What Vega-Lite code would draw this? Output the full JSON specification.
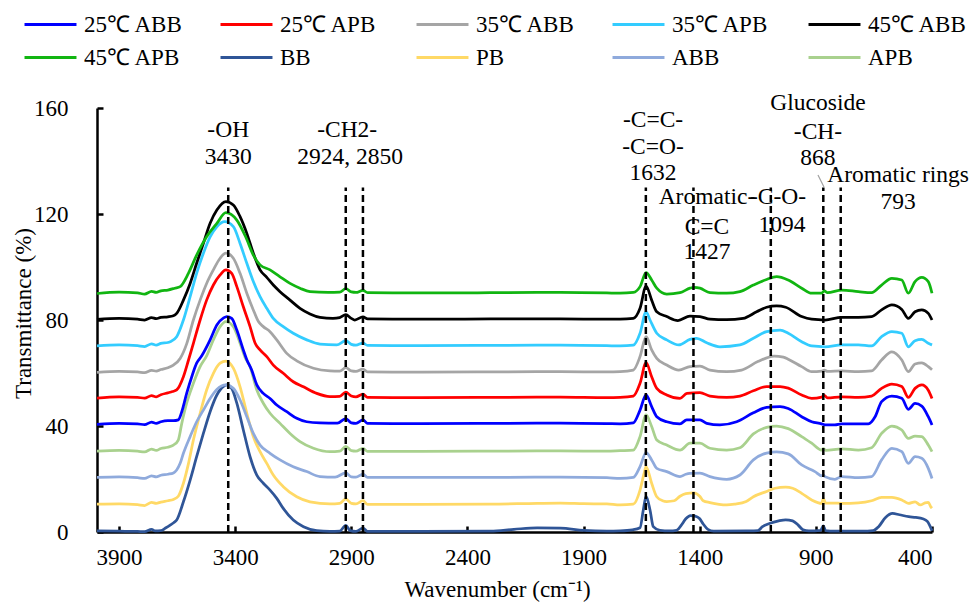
{
"$schema": "https://vega.github.io/schema/vega-lite/v6.json",
"width": 835,
"height": 424,
"autosize": {"type": "none"},
"padding": {"left": 97, "top": 108, "right": 40, "bottom": 70},
"background": "white",
"config": {
 "view": {"stroke": null},
 "font": "Liberation Serif",
 "style": {"guide-label": {"font": "Liberation Serif"}, "guide-title": {"font": "Liberation Serif"}},
 "axis": {"grid": false, "domainColor": "black", "domainWidth": 2.5, "tickColor": "black", "tickWidth": 2.5, "tickSize": -6, "labelFont": "Liberation Serif", "labelFontSize": 23, "labelColor": "black", "titleFont": "Liberation Serif", "titleFontSize": 23, "titleFontWeight": "normal", "titleColor": "black"},
 "legend": {"orient": "none", "legendX": -74, "legendY": -100, "direction": "horizontal", "columns": 5, "symbolType": "stroke", "symbolSize": 2700, "symbolStrokeWidth": 3, "labelFont": "Liberation Serif", "labelFontSize": 23, "labelColor": "black", "labelLimit": 300, "columnPadding": 35, "rowPadding": 0, "clipHeight": 33, "labelOffset": 6, "gridAlign": "all"}
},
"datasets": {
 "peaks": [{"wn": 3430}, {"wn": 2924}, {"wn": 2850}, {"wn": 1632}, {"wn": 1427}, {"wn": 1094}, {"wn": 868}, {"wn": 793}],
 "notes": [
  {"label": "-OH", "wn": 3430, "T": 151.7},
  {"label": "3430", "wn": 3430, "T": 141.5},
  {"label": "-CH2-", "wn": 2918, "T": 151.7},
  {"label": "2924, 2850", "wn": 2905, "T": 141.5},
  {"label": "-C=C-", "wn": 1601, "T": 155.5},
  {"label": "-C=O-", "wn": 1601, "T": 145.3},
  {"label": "1632", "wn": 1601, "T": 135.5},
  {"label": "Glucoside", "wn": 891, "T": 161.9},
  {"label": "-CH-", "wn": 891, "T": 150.9},
  {"label": "868", "wn": 891, "T": 141.1},
  {"label": "Aromatic rings", "wn": 546, "T": 134.7},
  {"label": "793", "wn": 546, "T": 124.5},
  {"label": "Aromatic-", "wn": 1369, "T": 126.4},
  {"label": "C=C", "wn": 1369, "T": 115.1},
  {"label": "1427", "wn": 1369, "T": 105.7},
  {"label": "-C-O-", "wn": 1063, "T": 126.4},
  {"label": "1094", "wn": 1046, "T": 115.8}
 ],
 "spectra": [
{"s":"BB","wn":3995,"T":0.4},{"s":"BB","wn":3900,"T":0.3},{"s":"BB","wn":3820,"T":0.2},{"s":"BB","wn":3790,"T":0.1},{"s":"BB","wn":3760,"T":1.0},{"s":"BB","wn":3745,"T":0.4},{"s":"BB","wn":3720,"T":0.5},{"s":"BB","wn":3700,"T":1.5},{"s":"BB","wn":3680,"T":2.6},{"s":"BB","wn":3665,"T":3.5},{"s":"BB","wn":3652,"T":4.5},{"s":"BB","wn":3623,"T":11.4},{"s":"BB","wn":3594,"T":19.6},{"s":"BB","wn":3566,"T":28.4},{"s":"BB","wn":3537,"T":37.2},{"s":"BB","wn":3508,"T":45.4},{"s":"BB","wn":3479,"T":51.7},{"s":"BB","wn":3450,"T":55.0},{"s":"BB","wn":3436,"T":55.5},{"s":"BB","wn":3415,"T":54.2},{"s":"BB","wn":3393,"T":48.6},{"s":"BB","wn":3365,"T":38.5},{"s":"BB","wn":3336,"T":28.4},{"s":"BB","wn":3307,"T":21.5},{"s":"BB","wn":3279,"T":18.4},{"s":"BB","wn":3250,"T":15.8},{"s":"BB","wn":3221,"T":12.7},{"s":"BB","wn":3193,"T":8.9},{"s":"BB","wn":3150,"T":4.5},{"s":"BB","wn":3106,"T":2.0},{"s":"BB","wn":3049,"T":0.5},{"s":"BB","wn":2992,"T":0.2},{"s":"BB","wn":2950,"T":0.3},{"s":"BB","wn":2924,"T":2.5},{"s":"BB","wn":2905,"T":0.5},{"s":"BB","wn":2880,"T":0.2},{"s":"BB","wn":2850,"T":1.5},{"s":"BB","wn":2830,"T":0.2},{"s":"BB","wn":2600,"T":0.2},{"s":"BB","wn":2300,"T":0.3},{"s":"BB","wn":2200,"T":1.0},{"s":"BB","wn":2100,"T":1.6},{"s":"BB","wn":2000,"T":1.5},{"s":"BB","wn":1900,"T":0.6},{"s":"BB","wn":1800,"T":0.3},{"s":"BB","wn":1743,"T":0.4},{"s":"BB","wn":1690,"T":0.8},{"s":"BB","wn":1657,"T":1.6},{"s":"BB","wn":1643,"T":8.3},{"s":"BB","wn":1631,"T":13.4},{"s":"BB","wn":1614,"T":8.3},{"s":"BB","wn":1600,"T":2.0},{"s":"BB","wn":1571,"T":0.6},{"s":"BB","wn":1530,"T":0.4},{"s":"BB","wn":1500,"T":0.6},{"s":"BB","wn":1480,"T":2.5},{"s":"BB","wn":1460,"T":5.0},{"s":"BB","wn":1440,"T":6.2},{"s":"BB","wn":1420,"T":6.0},{"s":"BB","wn":1400,"T":5.0},{"s":"BB","wn":1385,"T":3.0},{"s":"BB","wn":1365,"T":1.0},{"s":"BB","wn":1340,"T":0.3},{"s":"BB","wn":1200,"T":0.4},{"s":"BB","wn":1150,"T":0.5},{"s":"BB","wn":1130,"T":2.0},{"s":"BB","wn":1100,"T":3.2},{"s":"BB","wn":1060,"T":4.2},{"s":"BB","wn":1030,"T":4.6},{"s":"BB","wn":1000,"T":4.2},{"s":"BB","wn":975,"T":2.5},{"s":"BB","wn":955,"T":0.8},{"s":"BB","wn":930,"T":0.4},{"s":"BB","wn":880,"T":0.6},{"s":"BB","wn":868,"T":2.3},{"s":"BB","wn":858,"T":0.5},{"s":"BB","wn":820,"T":0.3},{"s":"BB","wn":700,"T":0.3},{"s":"BB","wn":654,"T":0.5},{"s":"BB","wn":630,"T":2.0},{"s":"BB","wn":600,"T":5.5},{"s":"BB","wn":570,"T":7.0},{"s":"BB","wn":540,"T":6.5},{"s":"BB","wn":500,"T":5.8},{"s":"BB","wn":470,"T":5.5},{"s":"BB","wn":440,"T":5.0},{"s":"BB","wn":420,"T":4.0},{"s":"BB","wn":410,"T":2.5},{"s":"BB","wn":400,"T":0.5},
{"s":"PB","wn":3995,"T":10.5},{"s":"PB","wn":3900,"T":10.6},{"s":"PB","wn":3820,"T":10.3},{"s":"PB","wn":3790,"T":10.0},{"s":"PB","wn":3760,"T":11.2},{"s":"PB","wn":3740,"T":10.8},{"s":"PB","wn":3720,"T":11.3},{"s":"PB","wn":3690,"T":11.8},{"s":"PB","wn":3666,"T":12.3},{"s":"PB","wn":3645,"T":13.5},{"s":"PB","wn":3623,"T":18.4},{"s":"PB","wn":3601,"T":25.9},{"s":"PB","wn":3580,"T":34.7},{"s":"PB","wn":3551,"T":44.8},{"s":"PB","wn":3523,"T":53.6},{"s":"PB","wn":3494,"T":59.9},{"s":"PB","wn":3465,"T":63.7},{"s":"PB","wn":3440,"T":64.5},{"s":"PB","wn":3408,"T":61.8},{"s":"PB","wn":3379,"T":54.8},{"s":"PB","wn":3350,"T":44.8},{"s":"PB","wn":3322,"T":36.0},{"s":"PB","wn":3293,"T":30.3},{"s":"PB","wn":3264,"T":25.9},{"s":"PB","wn":3236,"T":21.5},{"s":"PB","wn":3193,"T":17.1},{"s":"PB","wn":3135,"T":13.3},{"s":"PB","wn":3078,"T":11.4},{"s":"PB","wn":2992,"T":10.6},{"s":"PB","wn":2950,"T":10.8},{"s":"PB","wn":2924,"T":12.5},{"s":"PB","wn":2900,"T":10.8},{"s":"PB","wn":2880,"T":10.6},{"s":"PB","wn":2850,"T":11.8},{"s":"PB","wn":2830,"T":10.4},{"s":"PB","wn":2600,"T":10.4},{"s":"PB","wn":2300,"T":10.5},{"s":"PB","wn":2100,"T":10.8},{"s":"PB","wn":2000,"T":10.9},{"s":"PB","wn":1900,"T":10.7},{"s":"PB","wn":1800,"T":10.6},{"s":"PB","wn":1743,"T":10.2},{"s":"PB","wn":1686,"T":10.5},{"s":"PB","wn":1657,"T":15.8},{"s":"PB","wn":1640,"T":22.0},{"s":"PB","wn":1631,"T":24.7},{"s":"PB","wn":1607,"T":18.4},{"s":"PB","wn":1585,"T":13.3},{"s":"PB","wn":1560,"T":11.8},{"s":"PB","wn":1542,"T":11.5},{"s":"PB","wn":1510,"T":11.8},{"s":"PB","wn":1485,"T":13.5},{"s":"PB","wn":1460,"T":14.5},{"s":"PB","wn":1425,"T":14.8},{"s":"PB","wn":1400,"T":13.5},{"s":"PB","wn":1385,"T":11.8},{"s":"PB","wn":1356,"T":11.1},{"s":"PB","wn":1284,"T":10.2},{"s":"PB","wn":1250,"T":10.5},{"s":"PB","wn":1200,"T":11.5},{"s":"PB","wn":1169,"T":13.3},{"s":"PB","wn":1112,"T":15.3},{"s":"PB","wn":1076,"T":16.5},{"s":"PB","wn":1030,"T":16.9},{"s":"PB","wn":1000,"T":16.5},{"s":"PB","wn":961,"T":14.6},{"s":"PB","wn":918,"T":12.1},{"s":"PB","wn":875,"T":10.8},{"s":"PB","wn":868,"T":12.7},{"s":"PB","wn":858,"T":10.9},{"s":"PB","wn":820,"T":10.9},{"s":"PB","wn":789,"T":10.8},{"s":"PB","wn":717,"T":11.0},{"s":"PB","wn":660,"T":11.8},{"s":"PB","wn":617,"T":13.1},{"s":"PB","wn":573,"T":13.1},{"s":"PB","wn":530,"T":12.1},{"s":"PB","wn":502,"T":10.8},{"s":"PB","wn":473,"T":11.4},{"s":"PB","wn":450,"T":10.2},{"s":"PB","wn":430,"T":11.0},{"s":"PB","wn":416,"T":11.2},{"s":"PB","wn":405,"T":9.5},{"s":"PB","wn":400,"T":9.0},
{"s":"ABB","wn":3995,"T":20.6},{"s":"ABB","wn":3900,"T":20.8},{"s":"ABB","wn":3820,"T":20.5},{"s":"ABB","wn":3790,"T":20.2},{"s":"ABB","wn":3760,"T":21.2},{"s":"ABB","wn":3740,"T":20.8},{"s":"ABB","wn":3720,"T":21.4},{"s":"ABB","wn":3690,"T":21.8},{"s":"ABB","wn":3666,"T":22.3},{"s":"ABB","wn":3652,"T":23.4},{"s":"ABB","wn":3637,"T":25.9},{"s":"ABB","wn":3623,"T":29.7},{"s":"ABB","wn":3594,"T":36.0},{"s":"ABB","wn":3566,"T":41.6},{"s":"ABB","wn":3537,"T":46.0},{"s":"ABB","wn":3508,"T":50.4},{"s":"ABB","wn":3479,"T":53.8},{"s":"ABB","wn":3440,"T":55.5},{"s":"ABB","wn":3408,"T":54.2},{"s":"ABB","wn":3379,"T":49.8},{"s":"ABB","wn":3350,"T":43.5},{"s":"ABB","wn":3322,"T":37.2},{"s":"ABB","wn":3293,"T":32.8},{"s":"ABB","wn":3250,"T":29.7},{"s":"ABB","wn":3207,"T":27.2},{"s":"ABB","wn":3150,"T":24.6},{"s":"ABB","wn":3092,"T":22.8},{"s":"ABB","wn":3035,"T":20.9},{"s":"ABB","wn":2970,"T":20.7},{"s":"ABB","wn":2924,"T":22.3},{"s":"ABB","wn":2900,"T":20.8},{"s":"ABB","wn":2880,"T":20.7},{"s":"ABB","wn":2850,"T":21.8},{"s":"ABB","wn":2830,"T":20.6},{"s":"ABB","wn":2600,"T":20.6},{"s":"ABB","wn":2300,"T":20.6},{"s":"ABB","wn":2000,"T":20.7},{"s":"ABB","wn":1800,"T":20.5},{"s":"ABB","wn":1743,"T":20.2},{"s":"ABB","wn":1686,"T":20.6},{"s":"ABB","wn":1657,"T":24.7},{"s":"ABB","wn":1631,"T":30.0},{"s":"ABB","wn":1607,"T":27.2},{"s":"ABB","wn":1585,"T":24.0},{"s":"ABB","wn":1542,"T":22.8},{"s":"ABB","wn":1485,"T":20.9},{"s":"ABB","wn":1460,"T":21.8},{"s":"ABB","wn":1442,"T":22.1},{"s":"ABB","wn":1399,"T":22.2},{"s":"ABB","wn":1356,"T":20.9},{"s":"ABB","wn":1284,"T":19.9},{"s":"ABB","wn":1227,"T":21.5},{"s":"ABB","wn":1169,"T":27.2},{"s":"ABB","wn":1112,"T":29.8},{"s":"ABB","wn":1069,"T":30.2},{"s":"ABB","wn":1019,"T":29.5},{"s":"ABB","wn":961,"T":25.3},{"s":"ABB","wn":904,"T":22.8},{"s":"ABB","wn":875,"T":21.2},{"s":"ABB","wn":868,"T":21.5},{"s":"ABB","wn":861,"T":20.9},{"s":"ABB","wn":818,"T":19.9},{"s":"ABB","wn":789,"T":20.9},{"s":"ABB","wn":717,"T":20.5},{"s":"ABB","wn":660,"T":20.9},{"s":"ABB","wn":617,"T":27.2},{"s":"ABB","wn":573,"T":31.6},{"s":"ABB","wn":530,"T":30.3},{"s":"ABB","wn":502,"T":25.9},{"s":"ABB","wn":473,"T":28.4},{"s":"ABB","wn":444,"T":27.8},{"s":"ABB","wn":416,"T":24.0},{"s":"ABB","wn":400,"T":20.2},
{"s":"APB","wn":3995,"T":30.5},{"s":"APB","wn":3900,"T":30.8},{"s":"APB","wn":3820,"T":30.5},{"s":"APB","wn":3790,"T":30.2},{"s":"APB","wn":3760,"T":31.3},{"s":"APB","wn":3740,"T":30.8},{"s":"APB","wn":3720,"T":31.5},{"s":"APB","wn":3690,"T":32.0},{"s":"APB","wn":3666,"T":32.8},{"s":"APB","wn":3645,"T":34.7},{"s":"APB","wn":3630,"T":41.0},{"s":"APB","wn":3609,"T":48.6},{"s":"APB","wn":3580,"T":56.1},{"s":"APB","wn":3551,"T":62.4},{"s":"APB","wn":3523,"T":66.5},{"s":"APB","wn":3494,"T":72.5},{"s":"APB","wn":3465,"T":77.5},{"s":"APB","wn":3440,"T":79.4},{"s":"APB","wn":3408,"T":77.5},{"s":"APB","wn":3379,"T":71.2},{"s":"APB","wn":3358,"T":66.0},{"s":"APB","wn":3336,"T":62.4},{"s":"APB","wn":3307,"T":53.6},{"s":"APB","wn":3279,"T":48.6},{"s":"APB","wn":3250,"T":44.8},{"s":"APB","wn":3207,"T":41.0},{"s":"APB","wn":3164,"T":37.2},{"s":"APB","wn":3121,"T":34.1},{"s":"APB","wn":3063,"T":31.6},{"s":"APB","wn":2992,"T":30.3},{"s":"APB","wn":2950,"T":30.5},{"s":"APB","wn":2924,"T":32.3},{"s":"APB","wn":2900,"T":30.7},{"s":"APB","wn":2880,"T":30.5},{"s":"APB","wn":2850,"T":31.6},{"s":"APB","wn":2830,"T":30.4},{"s":"APB","wn":2600,"T":30.4},{"s":"APB","wn":2300,"T":30.5},{"s":"APB","wn":2000,"T":30.6},{"s":"APB","wn":1800,"T":30.5},{"s":"APB","wn":1743,"T":30.7},{"s":"APB","wn":1686,"T":30.9},{"s":"APB","wn":1657,"T":36.0},{"s":"APB","wn":1631,"T":44.2},{"s":"APB","wn":1607,"T":39.8},{"s":"APB","wn":1585,"T":34.7},{"s":"APB","wn":1542,"T":32.8},{"s":"APB","wn":1485,"T":30.9},{"s":"APB","wn":1442,"T":33.5},{"s":"APB","wn":1399,"T":33.5},{"s":"APB","wn":1356,"T":31.6},{"s":"APB","wn":1284,"T":30.9},{"s":"APB","wn":1227,"T":31.8},{"s":"APB","wn":1169,"T":37.0},{"s":"APB","wn":1112,"T":39.5},{"s":"APB","wn":1069,"T":40.0},{"s":"APB","wn":1019,"T":39.0},{"s":"APB","wn":961,"T":36.0},{"s":"APB","wn":918,"T":33.5},{"s":"APB","wn":875,"T":30.9},{"s":"APB","wn":868,"T":31.5},{"s":"APB","wn":858,"T":30.8},{"s":"APB","wn":789,"T":31.4},{"s":"APB","wn":717,"T":30.9},{"s":"APB","wn":660,"T":31.8},{"s":"APB","wn":617,"T":37.2},{"s":"APB","wn":573,"T":40.0},{"s":"APB","wn":530,"T":38.5},{"s":"APB","wn":502,"T":35.3},{"s":"APB","wn":473,"T":36.2},{"s":"APB","wn":444,"T":36.0},{"s":"APB","wn":416,"T":32.8},{"s":"APB","wn":400,"T":30.3},
{"s":"25℃ ABB","wn":3995,"T":40.6},{"s":"25℃ ABB","wn":3900,"T":41.0},{"s":"25℃ ABB","wn":3820,"T":40.8},{"s":"25℃ ABB","wn":3790,"T":40.5},{"s":"25℃ ABB","wn":3760,"T":41.5},{"s":"25℃ ABB","wn":3740,"T":41.0},{"s":"25℃ ABB","wn":3720,"T":41.6},{"s":"25℃ ABB","wn":3690,"T":42.0},{"s":"25℃ ABB","wn":3666,"T":42.0},{"s":"25℃ ABB","wn":3645,"T":42.3},{"s":"25℃ ABB","wn":3630,"T":45.4},{"s":"25℃ ABB","wn":3609,"T":52.3},{"s":"25℃ ABB","wn":3587,"T":58.6},{"s":"25℃ ABB","wn":3566,"T":63.7},{"s":"25℃ ABB","wn":3544,"T":66.5},{"s":"25℃ ABB","wn":3508,"T":72.5},{"s":"25℃ ABB","wn":3479,"T":78.1},{"s":"25℃ ABB","wn":3450,"T":80.8},{"s":"25℃ ABB","wn":3436,"T":81.3},{"s":"25℃ ABB","wn":3415,"T":80.6},{"s":"25℃ ABB","wn":3393,"T":76.2},{"s":"25℃ ABB","wn":3365,"T":68.7},{"s":"25℃ ABB","wn":3350,"T":65.0},{"s":"25℃ ABB","wn":3329,"T":61.1},{"s":"25℃ ABB","wn":3307,"T":55.5},{"s":"25℃ ABB","wn":3279,"T":52.3},{"s":"25℃ ABB","wn":3250,"T":50.4},{"s":"25℃ ABB","wn":3221,"T":47.9},{"s":"25℃ ABB","wn":3178,"T":45.4},{"s":"25℃ ABB","wn":3135,"T":42.9},{"s":"25℃ ABB","wn":3092,"T":41.6},{"s":"25℃ ABB","wn":3035,"T":41.2},{"s":"25℃ ABB","wn":2960,"T":41.1},{"s":"25℃ ABB","wn":2924,"T":42.8},{"s":"25℃ ABB","wn":2900,"T":41.2},{"s":"25℃ ABB","wn":2880,"T":41.0},{"s":"25℃ ABB","wn":2850,"T":42.3},{"s":"25℃ ABB","wn":2830,"T":41.0},{"s":"25℃ ABB","wn":2600,"T":40.9},{"s":"25℃ ABB","wn":2300,"T":41.0},{"s":"25℃ ABB","wn":2000,"T":41.1},{"s":"25℃ ABB","wn":1800,"T":40.9},{"s":"25℃ ABB","wn":1743,"T":40.8},{"s":"25℃ ABB","wn":1686,"T":41.2},{"s":"25℃ ABB","wn":1657,"T":46.0},{"s":"25℃ ABB","wn":1631,"T":51.7},{"s":"25℃ ABB","wn":1607,"T":47.3},{"s":"25℃ ABB","wn":1585,"T":43.5},{"s":"25℃ ABB","wn":1542,"T":41.6},{"s":"25℃ ABB","wn":1485,"T":40.8},{"s":"25℃ ABB","wn":1456,"T":42.3},{"s":"25℃ ABB","wn":1399,"T":42.3},{"s":"25℃ ABB","wn":1370,"T":41.0},{"s":"25℃ ABB","wn":1313,"T":40.4},{"s":"25℃ ABB","wn":1241,"T":41.6},{"s":"25℃ ABB","wn":1169,"T":45.0},{"s":"25℃ ABB","wn":1112,"T":47.0},{"s":"25℃ ABB","wn":1054,"T":47.3},{"s":"25℃ ABB","wn":1019,"T":46.6},{"s":"25℃ ABB","wn":961,"T":43.5},{"s":"25℃ ABB","wn":918,"T":41.6},{"s":"25℃ ABB","wn":875,"T":40.8},{"s":"25℃ ABB","wn":861,"T":40.4},{"s":"25℃ ABB","wn":818,"T":40.4},{"s":"25℃ ABB","wn":789,"T":40.8},{"s":"25℃ ABB","wn":717,"T":40.8},{"s":"25℃ ABB","wn":674,"T":40.8},{"s":"25℃ ABB","wn":645,"T":43.5},{"s":"25℃ ABB","wn":617,"T":49.2},{"s":"25℃ ABB","wn":573,"T":51.3},{"s":"25℃ ABB","wn":530,"T":50.5},{"s":"25℃ ABB","wn":502,"T":46.3},{"s":"25℃ ABB","wn":473,"T":48.5},{"s":"25℃ ABB","wn":444,"T":47.5},{"s":"25℃ ABB","wn":416,"T":43.5},{"s":"25℃ ABB","wn":400,"T":40.4},
{"s":"25℃ APB","wn":3995,"T":50.5},{"s":"25℃ APB","wn":3900,"T":51.0},{"s":"25℃ APB","wn":3820,"T":50.8},{"s":"25℃ APB","wn":3790,"T":50.5},{"s":"25℃ APB","wn":3760,"T":51.5},{"s":"25℃ APB","wn":3740,"T":51.0},{"s":"25℃ APB","wn":3720,"T":51.8},{"s":"25℃ APB","wn":3690,"T":52.5},{"s":"25℃ APB","wn":3670,"T":53.0},{"s":"25℃ APB","wn":3652,"T":53.6},{"s":"25℃ APB","wn":3623,"T":58.6},{"s":"25℃ APB","wn":3601,"T":64.9},{"s":"25℃ APB","wn":3580,"T":71.2},{"s":"25℃ APB","wn":3551,"T":80.0},{"s":"25℃ APB","wn":3523,"T":87.5},{"s":"25℃ APB","wn":3494,"T":93.2},{"s":"25℃ APB","wn":3465,"T":97.0},{"s":"25℃ APB","wn":3440,"T":98.9},{"s":"25℃ APB","wn":3415,"T":97.6},{"s":"25℃ APB","wn":3393,"T":92.6},{"s":"25℃ APB","wn":3365,"T":85.0},{"s":"25℃ APB","wn":3336,"T":77.5},{"s":"25℃ APB","wn":3314,"T":71.2},{"s":"25℃ APB","wn":3293,"T":68.7},{"s":"25℃ APB","wn":3264,"T":66.2},{"s":"25℃ APB","wn":3236,"T":63.0},{"s":"25℃ APB","wn":3193,"T":59.9},{"s":"25℃ APB","wn":3150,"T":56.7},{"s":"25℃ APB","wn":3106,"T":54.8},{"s":"25℃ APB","wn":3049,"T":52.3},{"s":"25℃ APB","wn":2992,"T":51.1},{"s":"25℃ APB","wn":2950,"T":51.2},{"s":"25℃ APB","wn":2924,"T":52.8},{"s":"25℃ APB","wn":2900,"T":51.3},{"s":"25℃ APB","wn":2880,"T":51.0},{"s":"25℃ APB","wn":2850,"T":52.0},{"s":"25℃ APB","wn":2830,"T":50.8},{"s":"25℃ APB","wn":2600,"T":50.7},{"s":"25℃ APB","wn":2300,"T":50.8},{"s":"25℃ APB","wn":2000,"T":50.9},{"s":"25℃ APB","wn":1800,"T":50.7},{"s":"25℃ APB","wn":1743,"T":50.8},{"s":"25℃ APB","wn":1686,"T":51.3},{"s":"25℃ APB","wn":1657,"T":56.1},{"s":"25℃ APB","wn":1631,"T":63.9},{"s":"25℃ APB","wn":1607,"T":58.6},{"s":"25℃ APB","wn":1585,"T":54.2},{"s":"25℃ APB","wn":1542,"T":51.7},{"s":"25℃ APB","wn":1485,"T":50.4},{"s":"25℃ APB","wn":1455,"T":52.3},{"s":"25℃ APB","wn":1399,"T":52.6},{"s":"25℃ APB","wn":1356,"T":51.3},{"s":"25℃ APB","wn":1284,"T":50.8},{"s":"25℃ APB","wn":1227,"T":51.3},{"s":"25℃ APB","wn":1169,"T":53.3},{"s":"25℃ APB","wn":1112,"T":54.9},{"s":"25℃ APB","wn":1054,"T":54.9},{"s":"25℃ APB","wn":1019,"T":54.3},{"s":"25℃ APB","wn":961,"T":51.7},{"s":"25℃ APB","wn":918,"T":50.4},{"s":"25℃ APB","wn":875,"T":50.9},{"s":"25℃ APB","wn":864,"T":51.6},{"s":"25℃ APB","wn":850,"T":50.6},{"s":"25℃ APB","wn":789,"T":51.0},{"s":"25℃ APB","wn":717,"T":50.8},{"s":"25℃ APB","wn":660,"T":51.3},{"s":"25℃ APB","wn":617,"T":54.2},{"s":"25℃ APB","wn":573,"T":55.8},{"s":"25℃ APB","wn":530,"T":54.9},{"s":"25℃ APB","wn":502,"T":50.8},{"s":"25℃ APB","wn":473,"T":54.2},{"s":"25℃ APB","wn":444,"T":55.5},{"s":"25℃ APB","wn":416,"T":53.5},{"s":"25℃ APB","wn":400,"T":50.4},
{"s":"35℃ ABB","wn":3995,"T":60.2},{"s":"35℃ ABB","wn":3900,"T":60.6},{"s":"35℃ ABB","wn":3820,"T":60.4},{"s":"35℃ ABB","wn":3790,"T":60.1},{"s":"35℃ ABB","wn":3760,"T":61.0},{"s":"35℃ ABB","wn":3740,"T":60.7},{"s":"35℃ ABB","wn":3720,"T":61.3},{"s":"35℃ ABB","wn":3690,"T":62.0},{"s":"35℃ ABB","wn":3666,"T":63.0},{"s":"35℃ ABB","wn":3637,"T":65.5},{"s":"35℃ ABB","wn":3609,"T":71.0},{"s":"35℃ ABB","wn":3580,"T":80.0},{"s":"35℃ ABB","wn":3551,"T":87.5},{"s":"35℃ ABB","wn":3523,"T":93.8},{"s":"35℃ ABB","wn":3494,"T":98.9},{"s":"35℃ ABB","wn":3465,"T":103.3},{"s":"35℃ ABB","wn":3440,"T":105.2},{"s":"35℃ ABB","wn":3408,"T":103.3},{"s":"35℃ ABB","wn":3379,"T":97.6},{"s":"35℃ ABB","wn":3350,"T":90.1},{"s":"35℃ ABB","wn":3322,"T":83.8},{"s":"35℃ ABB","wn":3300,"T":79.4},{"s":"35℃ ABB","wn":3279,"T":77.5},{"s":"35℃ ABB","wn":3250,"T":75.6},{"s":"35℃ ABB","wn":3221,"T":72.5},{"s":"35℃ ABB","wn":3178,"T":67.4},{"s":"35℃ ABB","wn":3135,"T":64.6},{"s":"35℃ ABB","wn":3063,"T":61.8},{"s":"35℃ ABB","wn":2992,"T":60.8},{"s":"35℃ ABB","wn":2950,"T":60.7},{"s":"35℃ ABB","wn":2924,"T":62.0},{"s":"35℃ ABB","wn":2900,"T":60.8},{"s":"35℃ ABB","wn":2880,"T":60.6},{"s":"35℃ ABB","wn":2850,"T":61.5},{"s":"35℃ ABB","wn":2830,"T":60.4},{"s":"35℃ ABB","wn":2600,"T":60.3},{"s":"35℃ ABB","wn":2300,"T":60.4},{"s":"35℃ ABB","wn":2000,"T":60.5},{"s":"35℃ ABB","wn":1800,"T":60.4},{"s":"35℃ ABB","wn":1743,"T":60.5},{"s":"35℃ ABB","wn":1686,"T":61.1},{"s":"35℃ ABB","wn":1657,"T":66.2},{"s":"35℃ ABB","wn":1631,"T":73.7},{"s":"35℃ ABB","wn":1607,"T":68.7},{"s":"35℃ ABB","wn":1585,"T":65.5},{"s":"35℃ ABB","wn":1542,"T":63.0},{"s":"35℃ ABB","wn":1490,"T":61.1},{"s":"35℃ ABB","wn":1442,"T":62.4},{"s":"35℃ ABB","wn":1399,"T":62.6},{"s":"35℃ ABB","wn":1356,"T":61.1},{"s":"35℃ ABB","wn":1284,"T":60.5},{"s":"35℃ ABB","wn":1220,"T":61.1},{"s":"35℃ ABB","wn":1150,"T":64.3},{"s":"35℃ ABB","wn":1080,"T":66.4},{"s":"35℃ ABB","wn":1040,"T":66.0},{"s":"35℃ ABB","wn":1019,"T":65.2},{"s":"35℃ ABB","wn":961,"T":62.4},{"s":"35℃ ABB","wn":918,"T":60.5},{"s":"35℃ ABB","wn":875,"T":60.7},{"s":"35℃ ABB","wn":864,"T":61.1},{"s":"35℃ ABB","wn":850,"T":60.6},{"s":"35℃ ABB","wn":789,"T":60.8},{"s":"35℃ ABB","wn":717,"T":60.5},{"s":"35℃ ABB","wn":660,"T":60.8},{"s":"35℃ ABB","wn":617,"T":64.9},{"s":"35℃ ABB","wn":573,"T":68.0},{"s":"35℃ ABB","wn":530,"T":64.9},{"s":"35℃ ABB","wn":502,"T":60.5},{"s":"35℃ ABB","wn":473,"T":63.4},{"s":"35℃ ABB","wn":444,"T":63.8},{"s":"35℃ ABB","wn":416,"T":62.4},{"s":"35℃ ABB","wn":400,"T":61.2},
{"s":"35℃ APB","wn":3995,"T":70.2},{"s":"35℃ APB","wn":3900,"T":70.6},{"s":"35℃ APB","wn":3820,"T":70.3},{"s":"35℃ APB","wn":3790,"T":70.0},{"s":"35℃ APB","wn":3760,"T":71.0},{"s":"35℃ APB","wn":3740,"T":70.5},{"s":"35℃ APB","wn":3720,"T":71.2},{"s":"35℃ APB","wn":3690,"T":71.5},{"s":"35℃ APB","wn":3680,"T":71.8},{"s":"35℃ APB","wn":3652,"T":73.7},{"s":"35℃ APB","wn":3623,"T":80.0},{"s":"35℃ APB","wn":3594,"T":88.8},{"s":"35℃ APB","wn":3566,"T":97.6},{"s":"35℃ APB","wn":3537,"T":105.2},{"s":"35℃ APB","wn":3508,"T":111.4},{"s":"35℃ APB","wn":3479,"T":115.2},{"s":"35℃ APB","wn":3445,"T":117.1},{"s":"35℃ APB","wn":3408,"T":115.2},{"s":"35℃ APB","wn":3379,"T":108.9},{"s":"35℃ APB","wn":3350,"T":101.4},{"s":"35℃ APB","wn":3322,"T":94.5},{"s":"35℃ APB","wn":3293,"T":88.8},{"s":"35℃ APB","wn":3264,"T":84.4},{"s":"35℃ APB","wn":3236,"T":80.6},{"s":"35℃ APB","wn":3193,"T":77.5},{"s":"35℃ APB","wn":3150,"T":75.0},{"s":"35℃ APB","wn":3092,"T":72.5},{"s":"35℃ APB","wn":3035,"T":70.9},{"s":"35℃ APB","wn":2963,"T":70.6},{"s":"35℃ APB","wn":2924,"T":72.2},{"s":"35℃ APB","wn":2900,"T":70.8},{"s":"35℃ APB","wn":2880,"T":70.5},{"s":"35℃ APB","wn":2850,"T":71.3},{"s":"35℃ APB","wn":2830,"T":70.4},{"s":"35℃ APB","wn":2600,"T":70.3},{"s":"35℃ APB","wn":2300,"T":70.4},{"s":"35℃ APB","wn":2000,"T":70.5},{"s":"35℃ APB","wn":1800,"T":70.3},{"s":"35℃ APB","wn":1743,"T":70.2},{"s":"35℃ APB","wn":1686,"T":70.5},{"s":"35℃ APB","wn":1657,"T":75.0},{"s":"35℃ APB","wn":1631,"T":83.1},{"s":"35℃ APB","wn":1614,"T":80.0},{"s":"35℃ APB","wn":1585,"T":75.0},{"s":"35℃ APB","wn":1542,"T":72.5},{"s":"35℃ APB","wn":1490,"T":70.6},{"s":"35℃ APB","wn":1442,"T":72.7},{"s":"35℃ APB","wn":1413,"T":73.1},{"s":"35℃ APB","wn":1370,"T":71.4},{"s":"35℃ APB","wn":1313,"T":69.9},{"s":"35℃ APB","wn":1227,"T":70.6},{"s":"35℃ APB","wn":1169,"T":73.1},{"s":"35℃ APB","wn":1112,"T":75.6},{"s":"35℃ APB","wn":1054,"T":76.2},{"s":"35℃ APB","wn":1019,"T":75.0},{"s":"35℃ APB","wn":961,"T":71.8},{"s":"35℃ APB","wn":918,"T":70.2},{"s":"35℃ APB","wn":861,"T":69.9},{"s":"35℃ APB","wn":789,"T":70.6},{"s":"35℃ APB","wn":717,"T":70.6},{"s":"35℃ APB","wn":660,"T":70.2},{"s":"35℃ APB","wn":617,"T":73.7},{"s":"35℃ APB","wn":573,"T":75.6},{"s":"35℃ APB","wn":530,"T":75.0},{"s":"35℃ APB","wn":502,"T":69.9},{"s":"35℃ APB","wn":473,"T":72.2},{"s":"35℃ APB","wn":444,"T":72.7},{"s":"35℃ APB","wn":416,"T":71.2},{"s":"35℃ APB","wn":400,"T":70.6},
{"s":"45℃ ABB","wn":3995,"T":80.2},{"s":"45℃ ABB","wn":3900,"T":80.6},{"s":"45℃ ABB","wn":3820,"T":80.3},{"s":"45℃ ABB","wn":3790,"T":80.0},{"s":"45℃ ABB","wn":3760,"T":80.9},{"s":"45℃ ABB","wn":3740,"T":80.5},{"s":"45℃ ABB","wn":3720,"T":81.0},{"s":"45℃ ABB","wn":3690,"T":81.2},{"s":"45℃ ABB","wn":3666,"T":81.6},{"s":"45℃ ABB","wn":3652,"T":82.5},{"s":"45℃ ABB","wn":3623,"T":87.5},{"s":"45℃ ABB","wn":3594,"T":93.8},{"s":"45℃ ABB","wn":3566,"T":101.4},{"s":"45℃ ABB","wn":3537,"T":108.9},{"s":"45℃ ABB","wn":3508,"T":116.5},{"s":"45℃ ABB","wn":3479,"T":121.5},{"s":"45℃ ABB","wn":3440,"T":124.7},{"s":"45℃ ABB","wn":3408,"T":123.4},{"s":"45℃ ABB","wn":3379,"T":119.0},{"s":"45℃ ABB","wn":3350,"T":112.7},{"s":"45℃ ABB","wn":3322,"T":105.2},{"s":"45℃ ABB","wn":3293,"T":98.9},{"s":"45℃ ABB","wn":3264,"T":96.1},{"s":"45℃ ABB","wn":3236,"T":93.2},{"s":"45℃ ABB","wn":3207,"T":90.7},{"s":"45℃ ABB","wn":3164,"T":87.5},{"s":"45℃ ABB","wn":3121,"T":84.4},{"s":"45℃ ABB","wn":3078,"T":82.3},{"s":"45℃ ABB","wn":3035,"T":81.0},{"s":"45℃ ABB","wn":2979,"T":80.6},{"s":"45℃ ABB","wn":2950,"T":80.9},{"s":"45℃ ABB","wn":2924,"T":82.0},{"s":"45℃ ABB","wn":2900,"T":80.6},{"s":"45℃ ABB","wn":2885,"T":80.0},{"s":"45℃ ABB","wn":2850,"T":81.2},{"s":"45℃ ABB","wn":2830,"T":80.4},{"s":"45℃ ABB","wn":2600,"T":80.3},{"s":"45℃ ABB","wn":2300,"T":80.4},{"s":"45℃ ABB","wn":2000,"T":80.4},{"s":"45℃ ABB","wn":1800,"T":80.3},{"s":"45℃ ABB","wn":1743,"T":80.3},{"s":"45℃ ABB","wn":1686,"T":80.6},{"s":"45℃ ABB","wn":1657,"T":84.4},{"s":"45℃ ABB","wn":1631,"T":92.8},{"s":"45℃ ABB","wn":1607,"T":87.5},{"s":"45℃ ABB","wn":1585,"T":83.1},{"s":"45℃ ABB","wn":1542,"T":81.3},{"s":"45℃ ABB","wn":1494,"T":79.8},{"s":"45℃ ABB","wn":1442,"T":81.5},{"s":"45℃ ABB","wn":1399,"T":81.3},{"s":"45℃ ABB","wn":1356,"T":80.3},{"s":"45℃ ABB","wn":1284,"T":80.1},{"s":"45℃ ABB","wn":1213,"T":80.6},{"s":"45℃ ABB","wn":1155,"T":83.1},{"s":"45℃ ABB","wn":1112,"T":84.8},{"s":"45℃ ABB","wn":1069,"T":85.3},{"s":"45℃ ABB","wn":1030,"T":84.8},{"s":"45℃ ABB","wn":961,"T":81.3},{"s":"45℃ ABB","wn":918,"T":80.3},{"s":"45℃ ABB","wn":861,"T":80.0},{"s":"45℃ ABB","wn":789,"T":81.0},{"s":"45℃ ABB","wn":717,"T":81.0},{"s":"45℃ ABB","wn":660,"T":81.3},{"s":"45℃ ABB","wn":617,"T":83.8},{"s":"45℃ ABB","wn":573,"T":85.7},{"s":"45℃ ABB","wn":530,"T":84.0},{"s":"45℃ ABB","wn":502,"T":80.6},{"s":"45℃ ABB","wn":473,"T":83.1},{"s":"45℃ ABB","wn":444,"T":83.8},{"s":"45℃ ABB","wn":416,"T":82.5},{"s":"45℃ ABB","wn":400,"T":80.0},
{"s":"45℃ APB","wn":3995,"T":90.0},{"s":"45℃ APB","wn":3900,"T":90.5},{"s":"45℃ APB","wn":3820,"T":90.2},{"s":"45℃ APB","wn":3790,"T":89.8},{"s":"45℃ APB","wn":3760,"T":90.8},{"s":"45℃ APB","wn":3740,"T":90.4},{"s":"45℃ APB","wn":3720,"T":91.0},{"s":"45℃ APB","wn":3690,"T":91.3},{"s":"45℃ APB","wn":3660,"T":92.0},{"s":"45℃ APB","wn":3637,"T":92.6},{"s":"45℃ APB","wn":3601,"T":97.7},{"s":"45℃ APB","wn":3566,"T":104.5},{"s":"45℃ APB","wn":3523,"T":111.4},{"s":"45℃ APB","wn":3479,"T":116.5},{"s":"45℃ APB","wn":3440,"T":120.5},{"s":"45℃ APB","wn":3393,"T":117.7},{"s":"45℃ APB","wn":3355,"T":111.4},{"s":"45℃ APB","wn":3322,"T":104.5},{"s":"45℃ APB","wn":3293,"T":100.8},{"s":"45℃ APB","wn":3250,"T":98.9},{"s":"45℃ APB","wn":3207,"T":96.3},{"s":"45℃ APB","wn":3164,"T":93.8},{"s":"45℃ APB","wn":3121,"T":92.0},{"s":"45℃ APB","wn":3078,"T":90.7},{"s":"45℃ APB","wn":3000,"T":90.4},{"s":"45℃ APB","wn":2950,"T":90.5},{"s":"45℃ APB","wn":2924,"T":91.8},{"s":"45℃ APB","wn":2900,"T":90.6},{"s":"45℃ APB","wn":2880,"T":90.4},{"s":"45℃ APB","wn":2850,"T":91.2},{"s":"45℃ APB","wn":2830,"T":90.3},{"s":"45℃ APB","wn":2600,"T":90.2},{"s":"45℃ APB","wn":2300,"T":90.3},{"s":"45℃ APB","wn":2000,"T":90.4},{"s":"45℃ APB","wn":1800,"T":90.2},{"s":"45℃ APB","wn":1743,"T":90.1},{"s":"45℃ APB","wn":1686,"T":90.4},{"s":"45℃ APB","wn":1657,"T":92.6},{"s":"45℃ APB","wn":1631,"T":97.9},{"s":"45℃ APB","wn":1607,"T":95.1},{"s":"45℃ APB","wn":1585,"T":92.0},{"s":"45℃ APB","wn":1542,"T":89.8},{"s":"45℃ APB","wn":1485,"T":90.3},{"s":"45℃ APB","wn":1442,"T":92.0},{"s":"45℃ APB","wn":1425,"T":92.3},{"s":"45℃ APB","wn":1399,"T":92.0},{"s":"45℃ APB","wn":1356,"T":90.3},{"s":"45℃ APB","wn":1284,"T":90.1},{"s":"45℃ APB","wn":1227,"T":90.7},{"s":"45℃ APB","wn":1169,"T":93.2},{"s":"45℃ APB","wn":1112,"T":95.3},{"s":"45℃ APB","wn":1069,"T":96.4},{"s":"45℃ APB","wn":1019,"T":95.1},{"s":"45℃ APB","wn":961,"T":92.0},{"s":"45℃ APB","wn":918,"T":90.1},{"s":"45℃ APB","wn":875,"T":90.1},{"s":"45℃ APB","wn":864,"T":91.0},{"s":"45℃ APB","wn":850,"T":90.3},{"s":"45℃ APB","wn":789,"T":91.3},{"s":"45℃ APB","wn":717,"T":90.7},{"s":"45℃ APB","wn":660,"T":90.3},{"s":"45℃ APB","wn":617,"T":93.2},{"s":"45℃ APB","wn":573,"T":95.7},{"s":"45℃ APB","wn":530,"T":95.1},{"s":"45℃ APB","wn":502,"T":90.1},{"s":"45℃ APB","wn":473,"T":94.5},{"s":"45℃ APB","wn":444,"T":96.1},{"s":"45℃ APB","wn":416,"T":94.5},{"s":"45℃ APB","wn":400,"T":90.1}
 ]
},
"layer": [
 {
  "data": {"name": "spectra"},
  "mark": {"type": "line", "strokeWidth": 2.75, "interpolate": "monotone"},
  "encoding": {
   "x": {"field": "wn", "type": "quantitative", "scale": {"domain": [400, 3995], "reverse": true, "nice": false, "zero": false},
         "axis": {"values": [3900, 3400, 2900, 2400, 1900, 1400, 900, 400], "format": "d", "title": "Wavenumber (cm⁻¹)", "labelFont": "Liberation Serif", "titleFont": "Liberation Serif", "labelPadding": 20, "titleX": 400, "titleY": 64, "titleBaseline": "alphabetic", "titleAnchor": null}},
   "y": {"field": "T", "type": "quantitative", "scale": {"domain": [0, 160], "nice": false},
         "axis": {"values": [0, 40, 80, 120, 160], "format": "d", "title": "Transmittance (%)", "labelFont": "Liberation Serif", "titleFont": "Liberation Serif", "labelPadding": 35, "titleX": -74, "titleY": 205, "titleBaseline": "middle", "titleAnchor": null}},
   "color": {"field": "s", "type": "nominal", "title": null,
     "scale": {"domain": ["25℃ ABB", "25℃ APB", "35℃ ABB", "35℃ APB", "45℃ ABB", "45℃ APB", "BB", "PB", "ABB", "APB"],
               "range": ["#0000FF", "#FF0000", "#A5A5A5", "#33CCFF", "#000000", "#11B511", "#2F5597", "#FFD966", "#8FAADC", "#A9D18E"]}}
  }
 },
 {
  "data": {"name": "peaks"},
  "mark": {"type": "rule", "color": "black", "strokeWidth": 2.5, "strokeDash": [7, 4]},
  "encoding": {"x": {"field": "wn", "type": "quantitative"}, "y": {"datum": 0}, "y2": {"datum": 130}}
 },
 {
  "data": {"values": [{}]},
  "mark": {"type": "rule", "color": "#A0A0A0", "strokeWidth": 1.2},
  "encoding": {"x": {"datum": 891}, "x2": {"datum": 865}, "y": {"datum": 134.7}, "y2": {"datum": 130.2}}
 },
 {
  "data": {"name": "notes"},
  "mark": {"type": "text", "font": "Liberation Serif", "fontSize": 23.5, "color": "black", "align": "center", "baseline": "middle"},
  "encoding": {"x": {"field": "wn", "type": "quantitative"}, "y": {"field": "T", "type": "quantitative"}, "text": {"field": "label"}}
 }
]
}
